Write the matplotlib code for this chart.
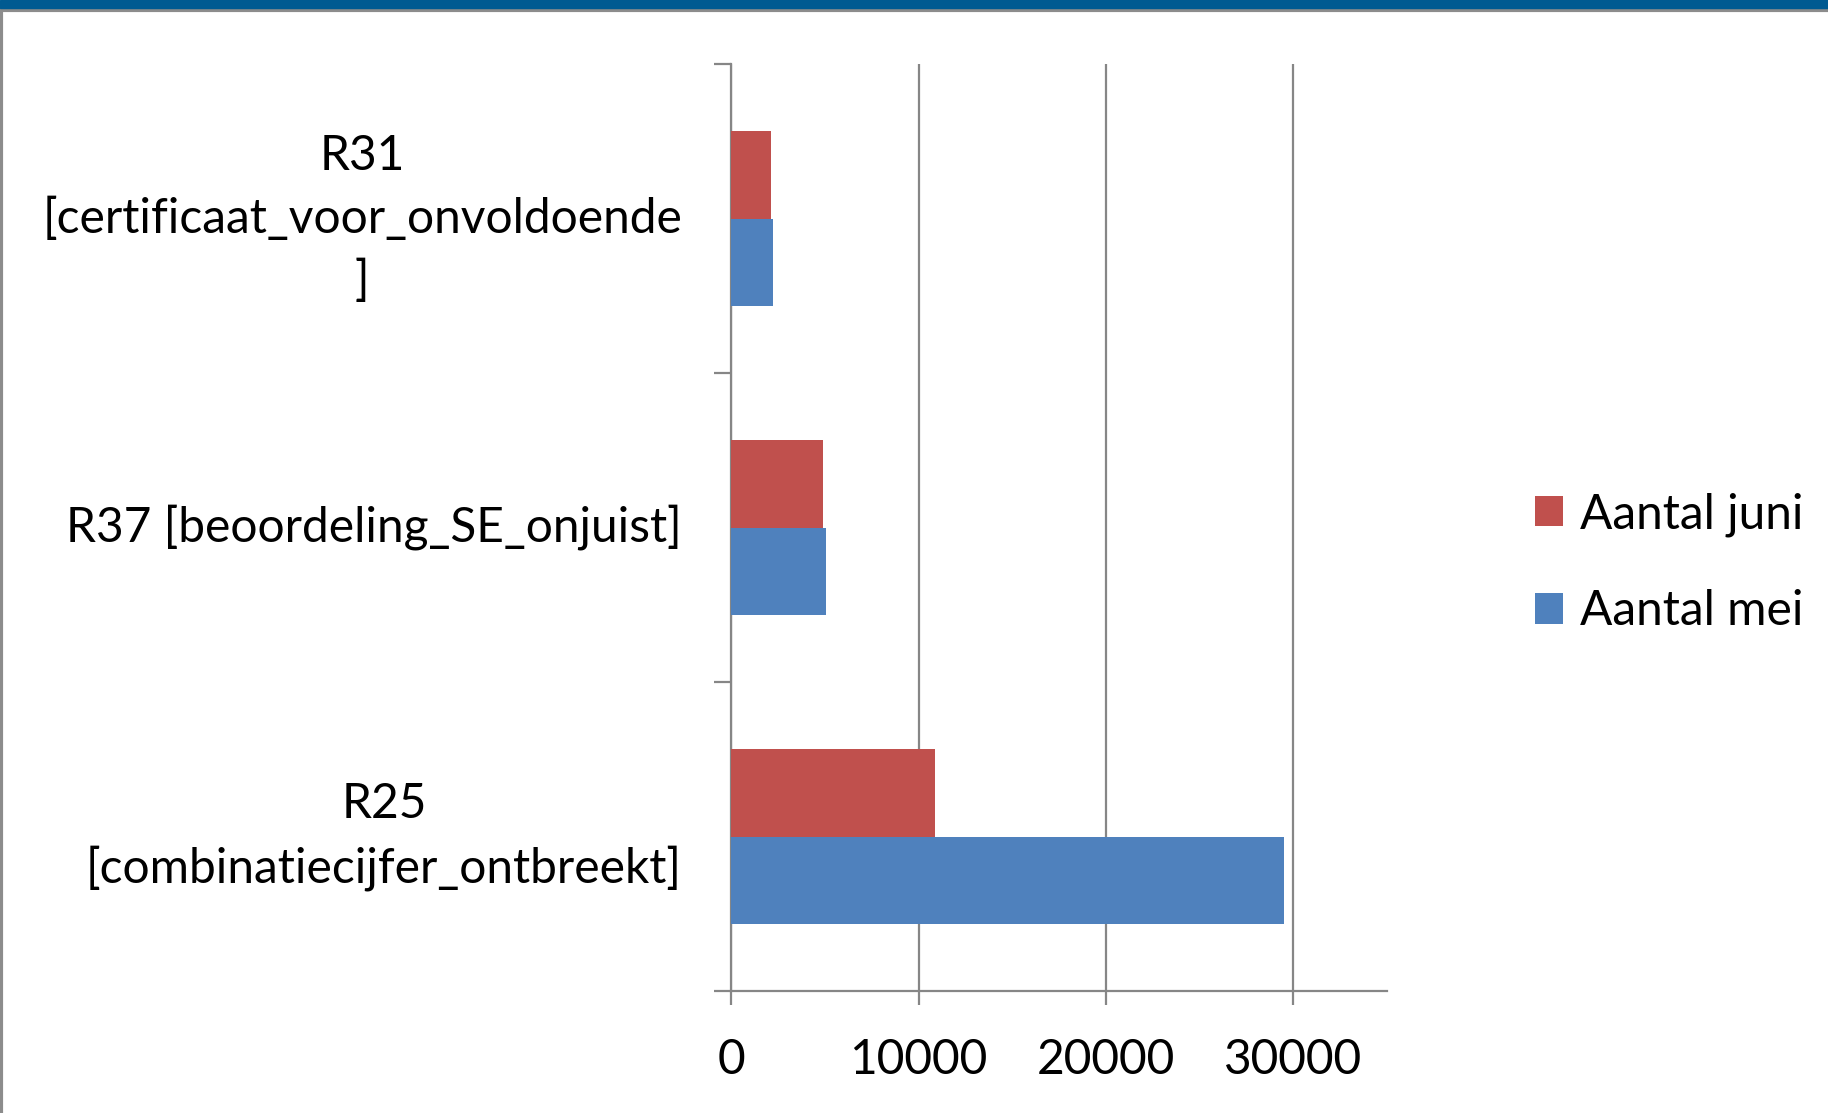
"""Horizontale staafgrafiek: aantal meldingen per regel, mei vs juni."""

import matplotlib
matplotlib.use("Agg")
import matplotlib.pyplot as plt
from matplotlib.patches import Rectangle
from matplotlib.lines import Line2D

matplotlib.rcParams["font.family"] = ["Lato", "DejaVu Sans"]

# van onder naar boven, zoals in de grafiek
categories = [
    "R25\n[combinatiecijfer_ontbreekt]",
    "R37 [beoordeling_SE_onjuist]",
    "R31\n[certificaat_voor_onvoldoende\n]",
]
aantal_juni = [10850, 4920, 2150]
aantal_mei = [29500, 5050, 2250]
xticks = [0, 10000, 20000, 30000]

RED = "#C0504D"
BLUE = "#4F81BD"
GRID = "#868686"
FS = 34.5

fig = plt.figure(figsize=(18.28, 11.13), dpi=100)
ax = fig.add_axes([0.4, 0.1096, 0.3588, 0.8329])

y = list(range(len(categories)))
h = 0.283
ax.barh([v + h / 2 for v in y], aantal_juni, height=h, color=RED, zorder=3,
        label="Aantal juni")
ax.barh([v - h / 2 for v in y], aantal_mei, height=h, color=BLUE, zorder=3,
        label="Aantal mei")

ax.set_xlim(0, 35000)
ax.set_ylim(-0.5, len(categories) - 0.5)
ax.set_xticks(xticks)
ax.set_xticklabels([str(t) for t in xticks])
ax.xaxis.grid(True, color=GRID, lw=1.6, zorder=0)

# categorie-labels tussen de tickmarks (Excel-stijl)
ax.set_yticks([v - 0.5 for v in y] + [len(y) - 0.5])
ax.set_yticklabels([])
ax.tick_params(axis="y", length=12, width=1.6, color=GRID)
ax.tick_params(axis="x", length=10, width=1.6, color=GRID, labelsize=FS, pad=24)
for v, lab in zip(y, categories):
    ax.text(-0.075, v, lab, transform=ax.get_yaxis_transform(), ha="right",
            va="center", multialignment="center", fontsize=FS, linespacing=1.5)

for side in ("top", "right"):
    ax.spines[side].set_visible(False)
for side in ("left", "bottom"):
    ax.spines[side].set_color(GRID)
    ax.spines[side].set_linewidth(1.6)

handles, labels = ax.get_legend_handles_labels()
ax.legend(handles, labels, loc="center left", bbox_to_anchor=(1.225, 0.462),
          frameon=False, fontsize=FS, handlelength=0.6, handleheight=0.6,
          handletextpad=0.35, labelspacing=1.1, borderpad=0, borderaxespad=0)

# kader van de schermafdruk
fig.patches.append(Rectangle((0, 1 - 8 / 1113), 1, 8 / 1113, transform=fig.transFigure,
                             color="#005A91", zorder=10))
fig.lines.append(Line2D([0, 1], [1 - 10 / 1113] * 2, transform=fig.transFigure,
                        color="#8C8C8C", lw=3))
fig.lines.append(Line2D([1 / 1828] * 2, [0, 1 - 8 / 1113], transform=fig.transFigure,
                        color="#8C8C8C", lw=3))

fig.savefig("out.png", dpi=100)
